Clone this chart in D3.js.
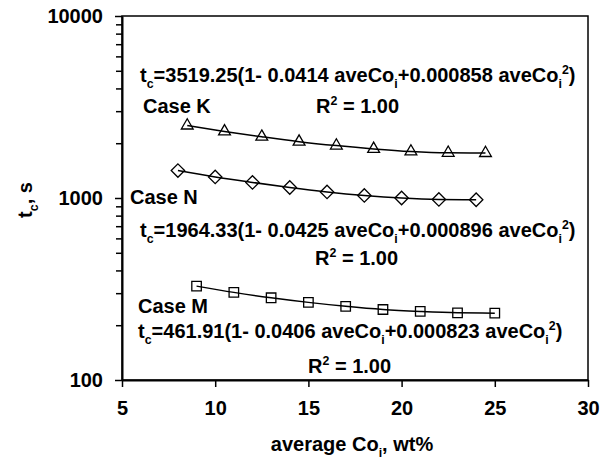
<!DOCTYPE html>
<html>
<head>
<meta charset="utf-8">
<script src="https://cdn.jsdelivr.net/npm/d3@7"></script>
<style>
  body { margin: 0; background: #fff; }
  svg { font-family: "Liberation Sans", Arial, sans-serif; font-weight: bold; }
</style>
</head>
<body>
<div class="chart"></div>
<script>
// values
const kX = [8.5, 10.5, 12.5, 14.5, 16.5, 18.5, 20.5, 22.5, 24.5];
const kT = [2500, 2320, 2170, 2040, 1940, 1860, 1800, 1770, 1765];
const nX = [8, 10, 12, 14, 16, 18, 20, 22, 24];
const nT = [1415, 1305, 1218, 1142, 1080, 1033, 1000, 982, 978];
const mX = [9, 11, 13, 15, 17, 19, 21, 23, 25];
const mT = [328, 303, 283, 267, 254, 244, 238, 234, 233];
const xTicks = [5, 10, 15, 20, 25, 30];
const yTicks = [100, 1000, 10000];

const w = 616;
const h = 460;
const plotL = 122, plotR = 588, plotT = 16, plotB = 380;

const svg = d3.select(".chart")
    .append("svg")
    .attr("width", w)
    .attr("height", h);

const x = d3.scaleLinear().domain([5, 30]).range([plotL, plotR]);
const y = d3.scaleLog().domain([100, 10000]).range([plotB, plotT]);

// box
svg.append("rect")
    .attr("x", plotL).attr("y", plotT)
    .attr("width", plotR - plotL).attr("height", plotB - plotT)
    .attr("fill", "none").attr("stroke", "black").attr("stroke-width", 1.5);

// minor y ticks
const minor = [];
[100, 1000].forEach(function(d) {
    for (let i = 2; i <= 9; i++) minor.push(d * i);
});
svg.append("g")
    .attr("transform", "translate(" + plotL + ",0)")
    .call(d3.axisLeft(y).tickValues(minor).tickFormat("").tickSize(6).tickSizeOuter(0))
    .call(g => g.select(".domain").remove())
    .call(g => g.selectAll("line").attr("stroke-width", 1.5));

const yAxis = svg.append("g")
    .attr("transform", "translate(" + plotL + ",0)")
    .call(d3.axisLeft(y).tickValues(yTicks).tickFormat(d3.format("d")).tickSize(7).tickSizeOuter(0).tickPadding(12));
yAxis.select(".domain").attr("stroke-width", 2);
yAxis.selectAll("line").attr("stroke-width", 1.5);
yAxis.selectAll("text").attr("font-size", 20).attr("font-family", null).attr("fill", "black");

const xAxis = svg.append("g")
    .attr("transform", "translate(0," + plotB + ")")
    .call(d3.axisBottom(x).tickValues(xTicks).tickSize(7).tickSizeOuter(0).tickPadding(14));
xAxis.select(".domain").attr("stroke-width", 2);
xAxis.selectAll("line").attr("stroke-width", 1.5);
xAxis.selectAll("text").attr("font-size", 20).attr("font-family", null).attr("fill", "black");

// lines
const line = d3.line()
    .x(d => x(d[0]))
    .y(d => y(d[1]))
    .curve(d3.curveMonotoneX);

function series(xs, ts, shape, size) {
    const pts = xs.map((v, i) => [v, ts[i]]);
    svg.append("path")
        .datum(pts)
        .attr("d", line)
        .attr("fill", "none")
        .attr("stroke", "black")
        .attr("stroke-width", 1.5);
    svg.selectAll(null)
        .data(pts)
        .enter()
        .append("path")
        .attr("transform", d => "translate(" + x(d[0]) + "," + y(d[1]) + ")")
        .attr("d", d3.symbol().type(shape).size(size))
        .attr("fill", "none")
        .attr("stroke", "black")
        .attr("stroke-width", 1.3);
}

series(kX, kT, d3.symbolTriangle2, 100);
series(nX, nT, d3.symbolDiamond2, 115);
series(mX, mT, d3.symbolSquare2, 115);

// text with sub / superscripts
function rich(px, py, parts, size, rotate) {
    const t = svg.append("text")
        .attr("x", px).attr("y", py)
        .attr("font-size", size);
    if (rotate) t.attr("text-anchor", "middle").attr("transform", "rotate(-90," + px + "," + py + ")");
    let shift = 0;
    parts.forEach(function(p) {
        const s = p[1] === "sub" ? size * 0.28 : p[1] === "sup" ? -size * 0.38 : 0;
        t.append("tspan")
            .attr("dy", s - shift)
            .attr("font-size", p[1] ? size * 0.62 : size)
            .text(p[0]);
        shift = s;
    });
    return t;
}

function eq(px, py, a, b, c) {
    rich(px, py, [["t"], ["c", "sub"], ["=" + a + "(1- " + b + " aveCo"], ["i", "sub"],
        ["+" + c + " aveCo"], ["i", "sub"], ["2", "sup"], [")"]], 20);
}

function r2(px, py) {
    rich(px, py, [["R"], ["2", "sup"], [" = 1.00"]], 20);
}

eq(140, 82, "3519.25", "0.0414", "0.000858");
rich(143, 113, [["Case K"]], 20);
r2(316, 113);

rich(130, 204, [["Case N"]], 20);
eq(140, 237, "1964.33", "0.0425", "0.000896");
r2(315, 265);

rich(138, 313, [["Case M"]], 20);
eq(138, 338, "461.91", "0.0406", "0.000823");
r2(308, 373);

// axis titles
rich(352, 451, [["average Co"], ["i", "sub"], [", wt%"]], 20).attr("text-anchor", "middle");
rich(32, 200, [["t"], ["c", "sub"], [", s"]], 20, true);
</script>
</body>
</html>
